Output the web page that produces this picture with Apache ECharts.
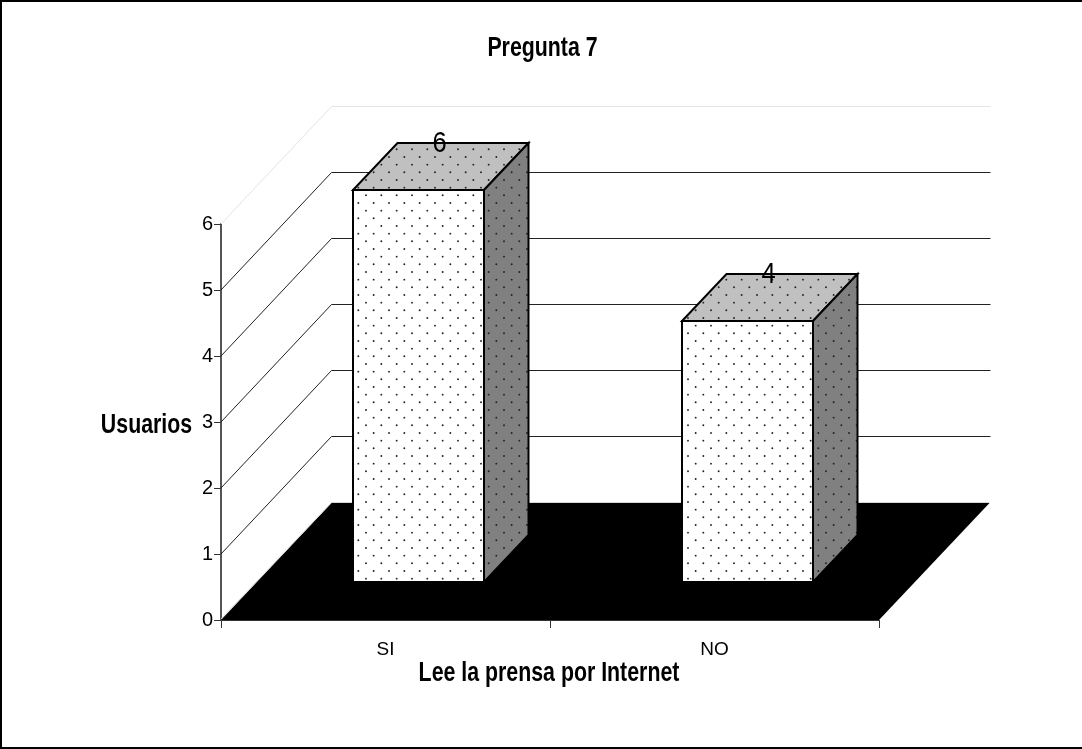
<!DOCTYPE html>
<html><head><meta charset="utf-8">
<style>html,body{margin:0;padding:0;background:#fff}#c{width:1082px;height:749px}</style>
<script src="https://cdn.jsdelivr.net/npm/echarts@6/dist/echarts.min.js"></script>
</head><body><div id="c"></div>
<script>
const categories = ['SI', 'NO'];
const usuarios = [6, 4];
const yTicks = [1, 2, 3, 4, 5, 6];
const titleText = 'Pregunta 7';
const xName = 'Lee la prensa por Internet';
const yName = 'Usuarios';

const FONT = '"Liberation Sans",Arial,sans-serif';
const DEPTH_X = 110.5, DEPTH_Y = 117;

function dots(bg) {
  const step = 46 / 3, cv = document.createElement('canvas');
  cv.width = 46; cv.height = 46;
  const g = cv.getContext('2d');
  g.fillStyle = bg; g.fillRect(0, 0, 46, 46);
  g.fillStyle = '#222';
  const put = (x, y) => {
    for (const dx of [-46, 0, 46]) for (const dy of [-46, 0, 46]) {
      g.beginPath(); g.arc(x + dx, y + dy, 0.95, 0, Math.PI * 2); g.fill();
    }
  };
  for (let i = 0; i < 3; i++) for (let j = 0; j < 3; j++) {
    put((44 + step * i) % 46, (11.3 + step * j) % 46);
    put((44 - step / 2 + step * i + 46) % 46, (11.3 + step / 2 + step * j) % 46);
  }
  return { image: cv, repeat: 'repeat' };
}
const frontFill = dots('#ffffff'), topFill = dots('#c0c0c0'), sideFill = dots('#808080');

function renderWall(params, api) {
  const v = api.value(0);
  const p = api.coord([0, v]);
  const x0 = params.coordSys.x, x1 = x0 + params.coordSys.width;
  const faint = v === yTicks[yTicks.length - 1];
  const yBack = p[1] - DEPTH_Y - 1 + 0.5;
  return { type: 'polyline', silent: true,
    shape: { points: [[x0, p[1]], [x0 + DEPTH_X, yBack], [x1 + DEPTH_X + 1, yBack]] },
    style: { fill: null, stroke: faint ? '#e4e4e4' : '#222', lineWidth: 1 } };
}
function renderFloor(params, api) {
  const s = params.coordSys, b = s.y + s.height, l = s.x, r = s.x + s.width;
  return { type: 'group', children: [
    { type: 'polygon', shape: { points: [[l, b], [r, b], [r + DEPTH_X, b - DEPTH_Y], [l + DEPTH_X, b - DEPTH_Y]] },
      style: { fill: '#000' } },
    { type: 'polyline', shape: { points: [[l, b - 1], [l + DEPTH_X, b - DEPTH_Y - 0.5], [r + DEPTH_X, b - DEPTH_Y - 0.5]] },
      style: { fill: null, stroke: '#d8d8d8', lineWidth: 1 } }
  ] };
}
function renderBar(params, api) {
  const idx = api.value(0), v = api.value(1);
  const base = api.coord([idx, 0]), top = api.coord([idx, v]);
  const w = api.size([1, 0])[0] * 0.398;
  const xl = Math.round(base[0] + 33 - w / 2), xr = xl + Math.round(w);
  const yb = base[1] - 38, yt = Math.round(yb - (base[1] - top[1]) * 0.99);
  const dx = 44.5, dy = 47;
  const line = { stroke: '#000', lineWidth: 2, lineJoin: 'miter' };
  return { type: 'group', children: [
    { type: 'polygon', shape: { points: [[xl, yt], [xr, yt], [xr + dx, yt - dy], [xl + dx, yt - dy]] },
      style: Object.assign({ fill: topFill }, line) },
    { type: 'polygon', shape: { points: [[xr, yt], [xr + dx, yt - dy], [xr + dx, yb - dy], [xr, yb]] },
      style: Object.assign({ fill: sideFill }, line) },
    { type: 'rect', shape: { x: xl, y: yt, width: xr - xl, height: yb - yt },
      style: Object.assign({ fill: frontFill }, line) },
    { type: 'text', z2: 10, x: (xl + xr) / 2 + 21, y: yt - 46, scaleX: 0.85,
      style: { text: String(v), x: 0, y: 0,
        align: 'center', verticalAlign: 'middle', font: '30px ' + FONT, fill: '#000' } }
  ] };
}

const boldText = (text, x, y) => ({ type: 'text', silent: true, x, y, scaleX: 0.79,
  style: { text, x: 0, y: 0, align: 'center', verticalAlign: 'middle',
    font: 'bold 27px ' + FONT, fill: '#000' } });

const chart = echarts.init(document.getElementById('c'), null, { renderer: 'canvas' });
chart.setOption({
  animation: false,
  backgroundColor: '#fff',
  grid: { left: 221, top: 224, width: 658, height: 396, containLabel: false },
  xAxis: { type: 'category', data: categories, boundaryGap: true,
    axisLine: { show: true, onZero: false, lineStyle: { color: '#333', width: 1 } },
    axisTick: { show: true, length: 8, lineStyle: { color: '#333' }, alignWithLabel: false },
    axisLabel: { fontFamily: FONT, fontSize: 19, color: '#000', margin: 20 },
    splitLine: { show: false } },
  yAxis: { type: 'value', min: 0, max: 6, interval: 1,
    axisLine: { show: true, lineStyle: { color: '#555', width: 2 } },
    axisTick: { show: true, length: 7, lineStyle: { color: '#333' } },
    axisLabel: { fontFamily: FONT, fontSize: 20, color: '#000', margin: 8, padding: [5, 0, 0, 0] },
    splitLine: { show: false } },
  graphic: [
    { type: 'line', silent: true, shape: { x1: 0, y1: 1, x2: 1082, y2: 1 }, style: { stroke: '#000', lineWidth: 2 } },
    { type: 'line', silent: true, shape: { x1: 1, y1: 0, x2: 1, y2: 749 }, style: { stroke: '#000', lineWidth: 2 } },
    { type: 'line', silent: true, shape: { x1: 0, y1: 748, x2: 1082, y2: 748 }, style: { stroke: '#000', lineWidth: 2 } },
    boldText(titleText, 542.5, 49),
    boldText(yName, 146.5, 426),
    boldText(xName, 549, 674)
  ],
  series: [
    { type: 'custom', name: 'wall', coordinateSystem: 'cartesian2d', z: 1, silent: true,
      encode: { y: 0 }, data: yTicks.map(v => [v]), renderItem: renderWall, clip: false },
    { type: 'custom', name: 'floor', coordinateSystem: 'cartesian2d', z: 2, silent: true,
      data: [[0]], renderItem: renderFloor, clip: false },
    { type: 'custom', name: 'Usuarios', coordinateSystem: 'cartesian2d', z: 3, silent: true,
      encode: { x: 0, y: 1 }, data: usuarios.map((v, i) => [i, v]), renderItem: renderBar, clip: false }
  ]
});
</script></body></html>
